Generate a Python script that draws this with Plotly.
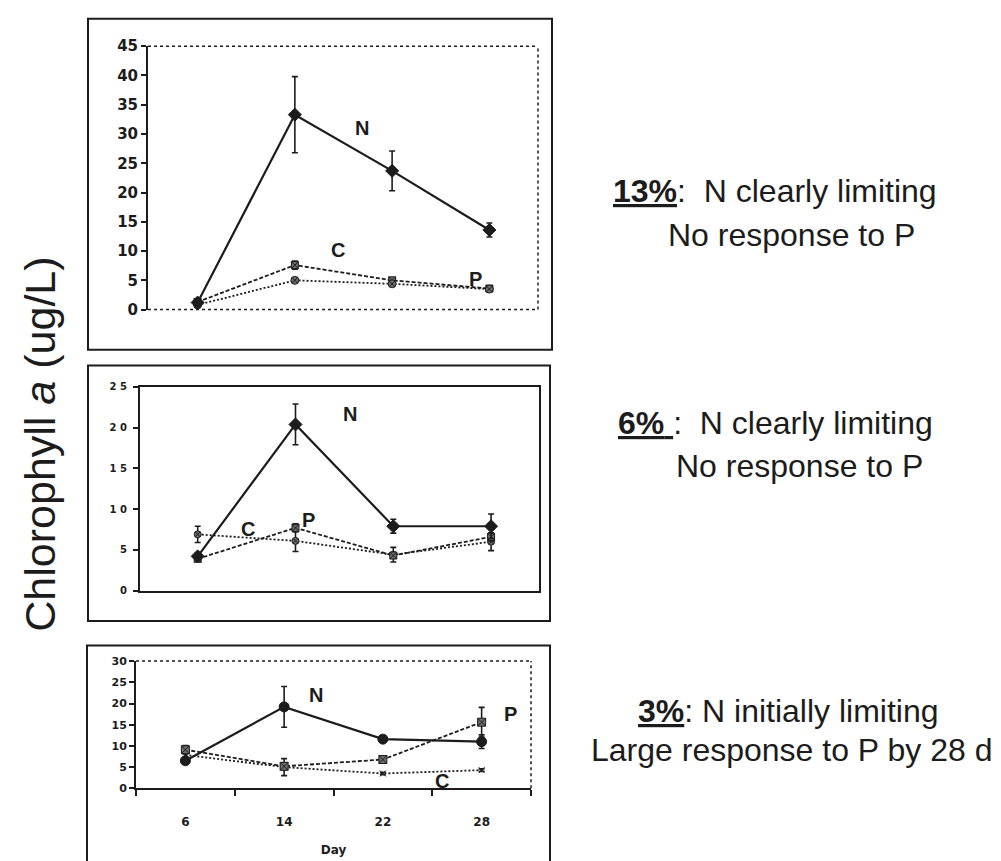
import plotly.graph_objects as go

W, H = 1001, 861

days = ["6", "14", "22", "28"]

# 13% treatment
top_n = [1.2, 33.3, 23.7, 13.6]
top_n_err = [0.3, 6.5, 3.4, 1.2]
top_c = [1.3, 7.6, 5.0, 3.6]
top_c_err = [0.2, 0.7, 0.3, 0.3]
top_p = [0.8, 5.0, 4.4, 3.5]
top_p_err = [0.2, 0.4, 0.3, 0.3]

# 6% treatment
mid_n = [4.2, 20.4, 7.9, 7.9]
mid_n_err = [0.4, 2.5, 0.85, 1.5]
mid_c = [6.9, 6.1, 4.4, 6.0]
mid_c_err = [1.0, 1.3, 0.9, 1.1]
mid_p = [3.9, 7.7, 4.3, 6.6]
mid_p_err = [0.3, 0.5, 0.3, 0.5]

# 3% treatment
bot_n = [6.5, 19.2, 11.6, 11.0]
bot_n_err = [0.5, 4.8, 0.5, 1.6]
bot_c = [7.9, 5.0, 3.5, 4.3]
bot_c_err = [0.5, 2.0, 0.3, 0.3]
bot_p = [9.1, 5.2, 6.8, 15.6]
bot_p_err = [1.0, 0.8, 0.7, 3.5]

top_ticks = [0, 5, 10, 15, 20, 25, 30, 35, 40, 45]
mid_ticks = [0, 5, 10, 15, 20, 25]
mid_ticktext = ["0", "5", "1 0", "1 5", "2 0", "2 5"]
bot_ticks = [0, 5, 10, 15, 20, 25, 30]

notes = [
    ("<u><b>13%</b></u>:&nbsp;&nbsp;N clearly limiting", "No response to P"),
    ("<u><b>6%</b>&nbsp;</u>:&nbsp;&nbsp;N clearly limiting", "No response to P"),
    ("<u><b>3%</b></u>: N initially limiting", "Large response to P by 28 d"),
]

INK = "#1c1c1c"
GREY = "#6e6e6e"


def px_x(p):
    return p / W


def px_y(p):
    return 1 - p / H


fig = go.Figure()


def add_series(xa, ya, y, err, dash, symbol, color, size, width):
    fig.add_trace(go.Scatter(
        x=days, y=y, xaxis=xa, yaxis=ya, mode="lines+markers",
        line=dict(color=INK, width=width, dash=dash),
        marker=dict(symbol=symbol, size=size, color=color,
                    line=dict(color=INK, width=1)),
        error_y=dict(type="data", array=err, visible=True, color=INK,
                     thickness=1.6, width=3),
        showlegend=False, hoverinfo="skip",
    ))


# panel 1
add_series("x", "y", top_c, top_c_err, "4px,2px", "square-x", GREY, 7, 1.8)
add_series("x", "y", top_p, top_p_err, "2px,2px", "circle-x", GREY, 8, 1.8)
add_series("x", "y", top_n, top_n_err, "solid", "diamond", INK, 10, 2.2)
# panel 2
add_series("x2", "y2", mid_c, mid_c_err, "2px,2px", "circle-x", GREY, 7, 1.8)
add_series("x2", "y2", mid_p, mid_p_err, "4px,2px", "square-x", GREY, 7, 1.8)
add_series("x2", "y2", mid_n, mid_n_err, "solid", "diamond", INK, 10, 2.2)
# panel 3
add_series("x3", "y3", bot_c, bot_c_err, "2px,2px", "x-thin", GREY, 6, 1.8)
add_series("x3", "y3", bot_p, bot_p_err, "4px,2px", "square-x", GREY, 8, 1.8)
add_series("x3", "y3", bot_n, bot_n_err, "solid", "circle", INK, 10, 2.2)

BOLD = "DejaVu Sans, Arial"
tick_font_top = dict(family=BOLD, size=15, color=INK, weight="bold")
tick_font_mid = dict(family=BOLD, size=10, color=INK, weight="bold")
tick_font_bot = dict(family=BOLD, size=11, color=INK, weight="bold")

xcommon = dict(type="category", categoryorder="array", categoryarray=days,
               showgrid=False, zeroline=False, fixedrange=True)
ycommon = dict(showgrid=False, zeroline=False, showline=True, linecolor=INK,
               linewidth=2, ticks="outside", ticklen=5, tickcolor=INK,
               tickwidth=1.5)

fig.update_layout(
    width=W, height=H,
    margin=dict(l=0, r=0, t=0, b=0),
    paper_bgcolor="white", plot_bgcolor="white",
    xaxis=dict(**xcommon, domain=[px_x(148), px_x(538)], range=[-0.51, 3.5],
               anchor="y", showline=False, showticklabels=False, ticks=""),
    yaxis=dict(**ycommon, domain=[px_y(307), px_y(38)], range=[0, 45],
               tickvals=top_ticks, tickfont=tick_font_top, anchor="x"),
    xaxis2=dict(**xcommon, domain=[px_x(140), px_x(539)], range=[-0.59, 3.49],
                anchor="y2", showline=True, linecolor=INK, linewidth=2,
                mirror=True, showticklabels=False, ticks=""),
    yaxis2=dict(**ycommon, domain=[px_y(594), px_y(386)], range=[0, 25],
                tickvals=mid_ticks, ticktext=mid_ticktext, mirror=True,
                tickfont=tick_font_mid, anchor="x2", ticklabelstandoff=4),
    xaxis3=dict(**xcommon, domain=[px_x(136), px_x(531)], range=[-0.5, 3.5],
                anchor="y3", showline=True, linecolor=INK, linewidth=2,
                ticks="outside", tickson="boundaries", ticklen=6,
                tickcolor=INK, tickwidth=2, ticklabelstandoff=21,
                tickfont=dict(family=BOLD, size=12, color=INK, weight="bold"),
                title=dict(text="Day", standoff=18,
                           font=dict(family=BOLD, size=12, color=INK,
                                     weight="bold"))),
    yaxis3=dict(**ycommon, domain=[px_y(796), px_y(666)], range=[0, 30],
                tickvals=bot_ticks, tickfont=tick_font_bot, anchor="x3"),
)

shapes = []
# dotted plot-area edges
for xr, yr, edges in [("x", "y", ["top", "right", "bottom"]),
                      ("x3", "y3", ["top", "right"])]:
    for e in edges:
        if e == "top":
            c = (0, 1, 1, 1)
        elif e == "right":
            c = (1, 0, 1, 1)
        else:
            c = (0, 0, 1, 0)
        shapes.append(dict(type="line", xref=f"{xr} domain", yref=f"{yr} domain",
                           x0=c[0], y0=c[1], x1=c[2], y1=c[3],
                           line=dict(color=INK, width=1.5, dash="dot")))

# outer frames around each chart
for x0, y0, x1, y1 in [(88, 10, 552, 348), (88, 364, 550, 625), (87, 650, 550, 900)]:
    shapes.append(dict(type="rect", xref="paper", yref="paper",
                       x0=px_x(x0), x1=px_x(x1), y0=px_y(y1), y1=px_y(y0),
                       line=dict(color=INK, width=2), fillcolor="rgba(0,0,0,0)"))
fig.update_layout(shapes=shapes)

ann = []
lab_font = dict(family="Arial, Liberation Sans", size=20, color=INK, weight="bold")
for xr, yr, txt, x, y in [
    ("x", "y", "N", 1.69, 31.0), ("x", "y", "C", 1.44, 10.2), ("x", "y", "P", 2.86, 5.3),
    ("x2", "y2", "N", 1.56, 21.7), ("x2", "y2", "C", 0.51, 7.5), ("x2", "y2", "P", 1.13, 8.7),
    ("x3", "y3", "N", 1.32, 22.0), ("x3", "y3", "P", 3.29, 17.6), ("x3", "y3", "C", 2.6, 1.8),
]:
    ann.append(dict(xref=xr, yref=yr, x=x, y=y, text=txt, xanchor="center",
                    yanchor="middle", showarrow=False, font=lab_font))

ann.append(dict(xref="paper", yref="paper", x=px_x(40), y=px_y(445),
                xanchor="center", yanchor="middle",
                text="Chlorophyll <i>a</i> (ug/L)", textangle=-90,
                showarrow=False,
                font=dict(family="Arial, Liberation Sans", size=43, color=INK)))

note_font = dict(family="Arial, Liberation Sans", size=32, color=INK)
note_pos = [((775, 186), (791, 231)), ((775, 423), (799, 467)), ((788, 717), (791, 757))]
for (l1, l2), ((x1, y1), (x2, y2)) in zip(notes, note_pos):
    ann.append(dict(xref="paper", yref="paper", x=px_x(x1), y=px_y(y1), text=l1,
                    xanchor="center", yanchor="middle",
                    showarrow=False, font=note_font))
    ann.append(dict(xref="paper", yref="paper", x=px_x(x2), y=px_y(y2), text=l2,
                    xanchor="center", yanchor="middle",
                    showarrow=False, font=note_font))
fig.update_layout(annotations=ann)

fig.write_html("out.html")
